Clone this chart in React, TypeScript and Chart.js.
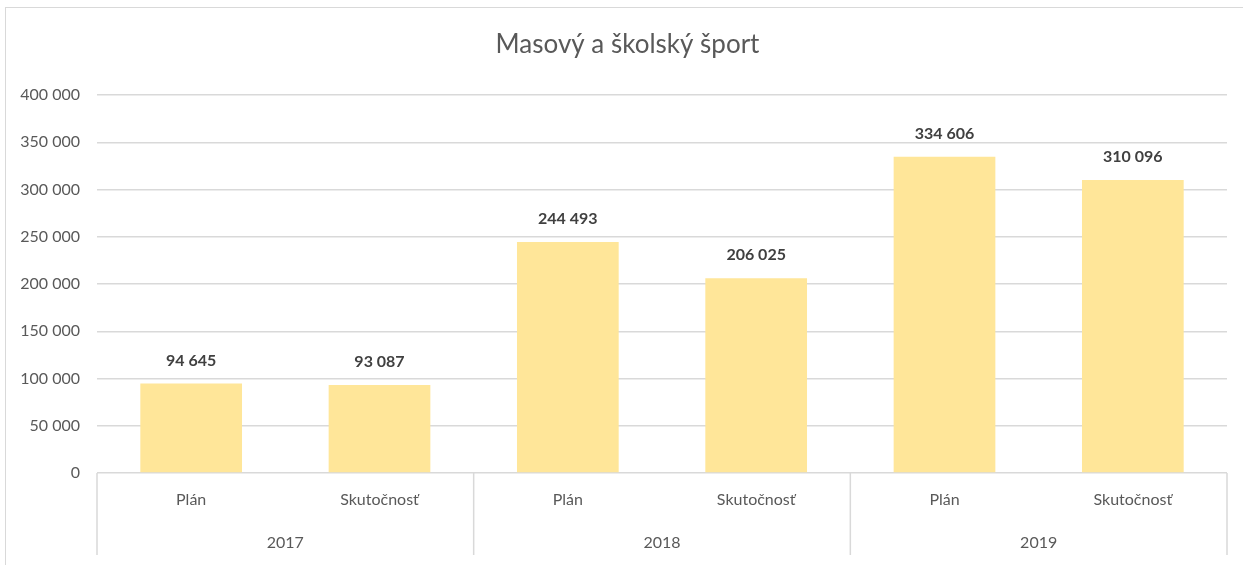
import React, { useEffect, useRef } from "react";
import { Chart, registerables } from "chart.js";

Chart.register(...registerables);

const chartTitle = "Masový a školský šport";
const years = ["2017", "2018", "2019"];
const kinds = ["Plán", "Skutočnosť"];
const values = [94645, 93087, 244493, 206025, 334606, 310096];
const yMin = 0;
const yMax = 400000;
const yStep = 50000;

const categories = years.flatMap((y) => kinds.map((k) => `${y}|${k}`));

const fmt = (v: number) => String(v).replace(/\B(?=(\d{3})+(?!\d))/g, " ");

const FONT = "Lato, 'Noto Sans', sans-serif";
const GRID = "#d9d9d9";
const TEXT = "#595959";

const overlayPlugin = {
  id: "overlay",
  afterDraw(chart: any) {
    const ctx = chart.ctx;
    const area = chart.chartArea;
    const xs = chart.scales.x;
    ctx.save();

    // title
    ctx.fillStyle = TEXT;
    ctx.font = `26px ${FONT}`;
    ctx.textAlign = "center";
    ctx.textBaseline = "middle";
    ctx.fillText(chartTitle, chart.width / 2 + 6, 45);

    // category labels
    ctx.font = `16px ${FONT}`;
    categories.forEach((c, i) => {
      const px = xs.getPixelForValue(i);
      ctx.fillText(c.split("|")[1], px, area.bottom + 27);
    });

    // group separators and year labels
    ctx.strokeStyle = GRID;
    ctx.lineWidth = 1.5;
    const n = kinds.length;
    for (let g = 0; g <= years.length; g++) {
      let bx: number;
      if (g === 0) bx = area.left;
      else if (g === years.length) bx = area.right;
      else bx = (xs.getPixelForValue(g * n - 1) + xs.getPixelForValue(g * n)) / 2;
      ctx.beginPath();
      ctx.moveTo(bx, area.bottom);
      ctx.lineTo(bx, area.bottom + 82);
      ctx.stroke();
    }
    years.forEach((y, g) => {
      const cx = (xs.getPixelForValue(g * n) + xs.getPixelForValue(g * n + n - 1)) / 2;
      ctx.fillText(y, cx, area.bottom + 70);
    });

    // data labels
    ctx.fillStyle = "#404040";
    ctx.font = `bold 16px ${FONT}`;
    const meta = chart.getDatasetMeta(0);
    meta.data.forEach((el: any, i: number) => {
      ctx.fillText(fmt(values[i]), el.x, el.y - 23);
    });

    ctx.restore();
  },
};

export default function App() {
  const ref = useRef<HTMLCanvasElement | null>(null);

  useEffect(() => {
    if (!ref.current) return;
    const chart = new Chart(ref.current, {
      type: "bar",
      data: {
        labels: categories,
        datasets: [
          {
            data: values,
            backgroundColor: "#FFE699",
            borderWidth: 0,
            categoryPercentage: 1,
            barPercentage: 0.54,
          },
        ],
      },
      options: {
        animation: false,
        responsive: false,
        maintainAspectRatio: false,
        layout: {
          autoPadding: false,
          padding: { top: 95, bottom: 92, left: 0, right: 16 },
        },
        plugins: {
          legend: { display: false },
          tooltip: { enabled: false },
          title: { display: false },
        },
        scales: {
          x: { display: false },
          y: {
            min: yMin,
            max: yMax,
            border: { display: false },
            grid: { color: GRID, lineWidth: 1.5, drawTicks: false },
            ticks: {
              stepSize: yStep,
              padding: 17,
              color: TEXT,
              font: { family: FONT, size: 16 },
              callback: (v: any) => fmt(Number(v)),
            },
            afterFit: (s: any) => {
              s.width = 97;
            },
          },
        },
      },
      plugins: [overlayPlugin],
    });
    return () => chart.destroy();
  }, []);

  return (
    <div style={{ position: "fixed", left: 0, top: 0, width: 1243, height: 565, background: "#fff", overflow: "hidden" }}>
      <div
        style={{
          position: "absolute",
          left: 5,
          top: 7,
          width: 1260,
          height: 600,
          border: "1.5px solid #d9d9d9",
          boxSizing: "border-box",
        }}
      />
      <canvas ref={ref} width={1243} height={565} style={{ position: "absolute", left: 0, top: 0 }} />
    </div>
  );
}
